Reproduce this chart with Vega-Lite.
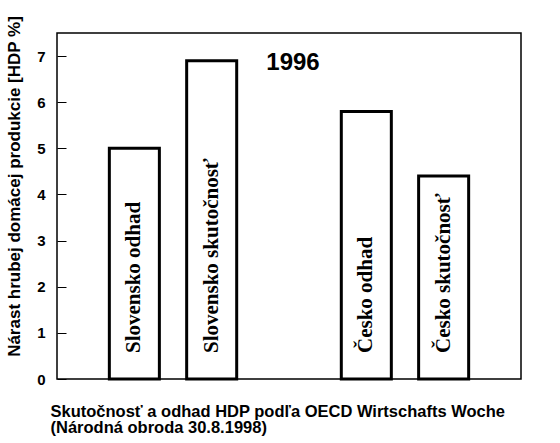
{
  "$schema": "https://vega.github.io/schema/vega-lite/v6.json",
  "autosize": "none",
  "width": 464,
  "height": 346,
  "padding": {"left": 57, "top": 33, "right": 39, "bottom": 64},
  "background": "white",
  "config": {
    "view": {"stroke": "black", "strokeWidth": 1.5},
    "font": "Liberation Sans"
  },
  "data": {
    "values": [
      {"kategoria": "Slovensko odhad", "hodnota": 5.0},
      {"kategoria": "Slovensko skutočnosť", "hodnota": 6.9},
      {"kategoria": "Česko odhad", "hodnota": 5.8},
      {"kategoria": "Česko skutočnosť", "hodnota": 4.4}
    ]
  },
  "encoding": {
    "x": {
      "field": "kategoria",
      "type": "nominal",
      "sort": null,
      "scale": {
        "domain": ["Slovensko odhad", "Slovensko skutočnosť", " ", "Česko odhad", "Česko skutočnosť"],
        "paddingInner": 0.353,
        "paddingOuter": 0.677
      },
      "axis": {
        "labels": false,
        "ticks": false,
        "domain": false,
        "title": ["Skutočnosť a odhad HDP podľa OECD Wirtschafts Woche", "(Národná obroda 30.8.1998)"],
        "titleFont": "Liberation Sans",
        "titleFontSize": 16.5,
        "titleFontWeight": "bold",
        "titleColor": "black",
        "titleAnchor": "start",
        "titleAlign": "left",
        "titleBaseline": "top",
        "titleX": -7,
        "titleY": 24,
        "titleLineHeight": 16.5
      }
    }
  },
  "layer": [
    {
      "mark": {"type": "bar", "fill": "white", "stroke": "black", "strokeWidth": 3},
      "encoding": {
        "y": {
          "field": "hodnota",
          "type": "quantitative",
          "scale": {"domain": [0, 7.5], "nice": false},
          "axis": {
            "values": [0, 1, 2, 3, 4, 5, 6, 7],
            "grid": false,
            "domain": false,
            "tickSize": -9,
            "tickColor": "black",
            "tickWidth": 1,
            "labelPadding": 21,
            "labelFont": "Liberation Sans",
            "labelFontSize": 15,
            "labelFontWeight": "bold",
            "labelColor": "black",
            "title": "Nárast hrubej domácej produkcie [HDP %]",
            "titleFont": "Liberation Sans",
            "titleFontSize": 17,
            "titleFontWeight": "bold",
            "titleColor": "black",
            "titleAngle": 270,
            "titleAlign": "center",
            "titleBaseline": "middle",
            "titleX": -43,
            "titleY": 153
          }
        }
      }
    },
    {
      "mark": {
        "type": "text",
        "angle": 270,
        "align": "left",
        "baseline": "middle",
        "dx": 26,
        "font": "Liberation Serif",
        "fontWeight": "bold",
        "fontSize": 21,
        "color": "black"
      },
      "encoding": {
        "y": {"datum": 0, "type": "quantitative"},
        "text": {"field": "kategoria"}
      }
    },
    {
      "data": {"values": [{"rok": "1996"}]},
      "mark": {
        "type": "text",
        "align": "center",
        "baseline": "middle",
        "dx": 4,
        "font": "Liberation Sans",
        "fontWeight": "bold",
        "fontSize": 24,
        "color": "black"
      },
      "encoding": {
        "x": {"datum": " "},
        "y": {"datum": 6.85, "type": "quantitative"},
        "text": {"field": "rok"}
      }
    }
  ]
}
